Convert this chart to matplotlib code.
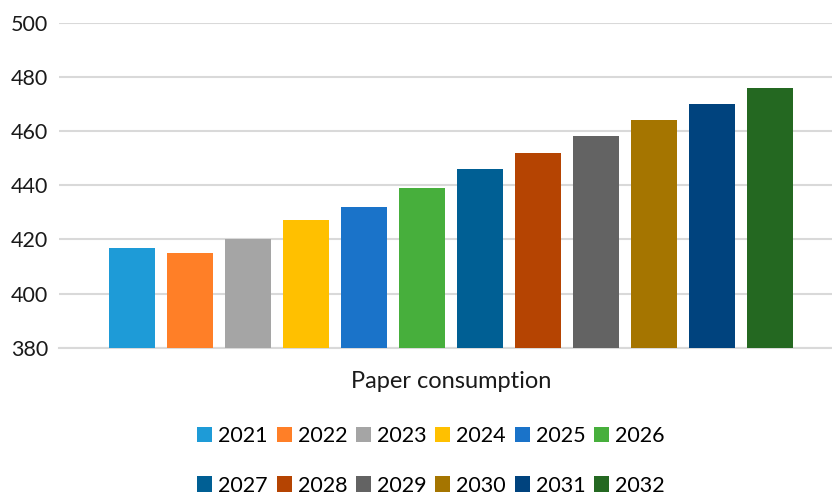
import matplotlib.pyplot as plt
from matplotlib.patches import Patch

plt.rcParams['font.family'] = ['Lato', 'DejaVu Sans']

years = ['2021', '2022', '2023', '2024', '2025', '2026',
         '2027', '2028', '2029', '2030', '2031', '2032']
values = [417, 415, 420, 427, 432, 439, 446, 452, 458, 464, 470, 476]
colors = ['#1E9BD7', '#FF7F27', '#A5A5A5', '#FFC000', '#1A73C9', '#47AF3C',
          '#005F94', '#B54402', '#636363', '#A57500', '#00437E', '#246821']
category = 'Paper consumption'

fig = plt.figure(figsize=(8.32, 4.94), dpi=100)
ax = fig.add_axes([0.071, 0.296, 0.929, 0.658])

x = list(range(len(years)))
ax.bar(x, [v - 380 for v in values], bottom=380, width=0.79, color=colors, zorder=3)

ax.set_ylim(380, 500)
ax.set_yticks(range(380, 501, 20))
ax.set_xlim(-1.26, 12.07)
ax.set_xticks([])
ax.grid(axis='y', color='#D9D9D9', linewidth=1.5, zorder=0)
for s in ['top', 'right', 'left']:
    ax.spines[s].set_visible(False)
ax.spines['bottom'].set_color('#D9D9D9')
ax.spines['bottom'].set_linewidth(1.5)
ax.tick_params(axis='y', length=0, labelsize=15.5, pad=8, colors='#1a1a1a')

fig.text(451 / 832, 1 - 381 / 494, category, ha='center', va='center',
         fontsize=17, color='#1a1a1a')

# legend fills column by column, so interleave the two rows
handles = [Patch(facecolor=c, label=y) for c, y in zip(colors, years)]
order = [i + r * 6 for i in range(6) for r in range(2)]
handles = [handles[i] for i in order]
fig.legend(handles=handles, ncol=6, loc='center', bbox_to_anchor=(431 / 832, 1 - 461 / 494),
           frameon=False, fontsize=15.5, handlelength=0.7, handleheight=0.7,
           handletextpad=0.28, columnspacing=0.4, labelspacing=1.35)

fig.savefig('out.png', dpi=100)
